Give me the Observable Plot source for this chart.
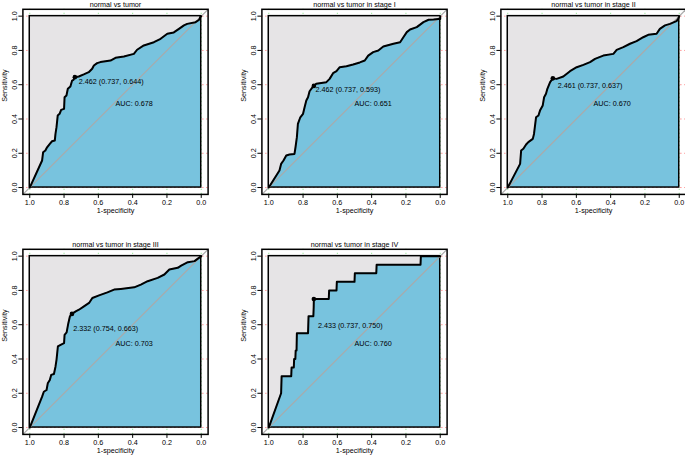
<!DOCTYPE html>
<html><head><meta charset="utf-8">
<script src="https://cdn.jsdelivr.net/npm/d3@7"></script>
<script src="https://cdn.jsdelivr.net/npm/@observablehq/plot@0.6"></script>
<style>
body{margin:0;background:#fff;}
#wrap{position:relative;width:685px;height:455px;overflow:hidden;background:#fff;}
.panel{position:absolute;width:238px;height:239px;}
.panel svg{max-width:none !important;}
</style></head><body><div id="wrap"></div>
<script>
// ---- data (specificity, sensitivity) ----
const titles = ["normal vs tumor", "normal vs tumor in stage I", "normal vs tumor in stage II",
                "normal vs tumor in stage III", "normal vs tumor in stage IV"];
const aucs = [0.678, 0.651, 0.670, 0.703, 0.760];
const thresholds = [2.462, 2.462, 2.461, 2.332, 2.433];
const bestSpec = [0.737, 0.737, 0.737, 0.754, 0.737];
const bestSens = [0.644, 0.593, 0.637, 0.663, 0.750];
const xTicks = [1.0, 0.8, 0.6, 0.4, 0.2, 0.0];
const yTicks = [0.0, 0.2, 0.4, 0.6, 0.8, 1.0];

const rocAll = [[1,0],[0.928,0.158],[0.922,0.206],[0.909,0.216],[0.899,0.235],[0.883,0.255],[0.87,0.27],[0.854,0.274],[0.85,0.313],[0.844,0.352],[0.837,0.42],[0.826,0.43],[0.817,0.453],[0.80,0.459],[0.797,0.527],[0.786,0.537],[0.778,0.576],[0.763,0.589],[0.753,0.624],[0.745,0.628],[0.737,0.644],[0.714,0.648],[0.685,0.66],[0.656,0.673],[0.636,0.693],[0.626,0.712],[0.607,0.726],[0.588,0.732],[0.529,0.741],[0.5,0.757],[0.451,0.765],[0.393,0.78],[0.374,0.804],[0.335,0.829],[0.276,0.848],[0.237,0.868],[0.198,0.897],[0.16,0.905],[0.13,0.926],[0.101,0.946],[0.082,0.955],[0.033,0.965],[0.012,0.979],[0.004,1],[0,1]];
const rocStage1 = [[1,0],[0.9375,0.099],[0.928,0.138],[0.914,0.158],[0.898,0.187],[0.879,0.193],[0.85,0.196],[0.844,0.235],[0.836,0.294],[0.83,0.372],[0.816,0.41],[0.80,0.43],[0.791,0.469],[0.781,0.508],[0.771,0.527],[0.762,0.562],[0.742,0.589],[0.737,0.593],[0.723,0.605],[0.664,0.615],[0.645,0.634],[0.625,0.667],[0.605,0.679],[0.586,0.702],[0.547,0.708],[0.508,0.718],[0.469,0.73],[0.44,0.741],[0.42,0.77],[0.391,0.79],[0.361,0.80],[0.332,0.823],[0.273,0.839],[0.234,0.848],[0.215,0.877],[0.195,0.907],[0.176,0.922],[0.137,0.936],[0.098,0.965],[0.068,0.979],[0.039,0.981],[0.01,0.984],[0,0.984],[0,1]];
const rocStage2 = [[1,0],[0.928,0.138],[0.922,0.216],[0.909,0.226],[0.893,0.251],[0.88,0.265],[0.854,0.284],[0.847,0.313],[0.835,0.41],[0.821,0.42],[0.812,0.449],[0.796,0.479],[0.788,0.527],[0.777,0.547],[0.769,0.576],[0.753,0.615],[0.737,0.637],[0.715,0.634],[0.676,0.648],[0.637,0.679],[0.598,0.702],[0.559,0.716],[0.52,0.732],[0.491,0.751],[0.443,0.77],[0.384,0.78],[0.365,0.803],[0.326,0.819],[0.287,0.839],[0.249,0.854],[0.21,0.877],[0.181,0.891],[0.132,0.897],[0.113,0.926],[0.083,0.946],[0.054,0.955],[0.016,0.971],[0.006,0.984],[0,1]];
const rocStage3 = [[1,0],[0.928,0.18],[0.918,0.209],[0.902,0.219],[0.895,0.258],[0.883,0.277],[0.875,0.307],[0.859,0.3125],[0.85,0.355],[0.844,0.395],[0.836,0.473],[0.82,0.482],[0.80,0.492],[0.797,0.541],[0.785,0.555],[0.775,0.609],[0.766,0.648],[0.754,0.663],[0.732,0.678],[0.713,0.6875],[0.684,0.707],[0.654,0.727],[0.635,0.756],[0.596,0.771],[0.547,0.789],[0.508,0.805],[0.469,0.809],[0.391,0.818],[0.352,0.834],[0.3125,0.854],[0.254,0.873],[0.215,0.893],[0.186,0.922],[0.137,0.932],[0.117,0.945],[0.078,0.965],[0.039,0.971],[0,1]];
const rocStage4 = [[1,0],[0.928,0.2],[0.925,0.3],[0.869,0.3],[0.867,0.35],[0.854,0.35],[0.852,0.4],[0.845,0.4],[0.843,0.45],[0.838,0.45],[0.836,0.55],[0.771,0.55],[0.768,0.65],[0.74,0.65],[0.738,0.7],[0.737,0.75],[0.65,0.75],[0.648,0.8],[0.605,0.8],[0.603,0.85],[0.5,0.85],[0.498,0.9],[0.373,0.9],[0.371,0.95],[0.115,0.95],[0.113,1],[0,1]];
const rocs = [rocAll, rocStage1, rocStage2, rocStage3, rocStage4];

// ---- layout ----
const threshLabelPos = [[0.714,0.62],[0.727,0.57],[0.709,0.595],[0.746,0.576],[0.713,0.596]];
const aucLabelPos = [0.5, 0.49];
const origins = [[0,0],[238.6,0],[477.6,0],[0,239.5],[238.6,239.5]];
const W = 238, H = 239;
const M = {left: 22.4, top: 8.8, right: 30.4, bottom: 45.1};
const xDom = [1.04, -0.04], yDom = [-0.04, 1.04];
const font = "'Liberation Sans', Arial, Helvetica, sans-serif";
const FS = 7.2;
const f3 = d3.format(".3f"), f1 = d3.format(".1f");

const wrap = document.getElementById("wrap");
rocs.forEach((roc, i) => {
  const data = roc.map(([spec, sens]) => ({spec, sens}));
  const chart = Plot.plot({
    width: W, height: H,
    marginLeft: M.left, marginTop: M.top, marginRight: M.right, marginBottom: M.bottom,
    x: {domain: xDom, axis: null},
    y: {domain: yDom, axis: null},
    style: {fontFamily: font, fontSize: FS + "px", background: "transparent", overflow: "visible", color: "black", maxWidth: "none"},
    marks: [
      Plot.ruleY(yTicks, {stroke: "red", strokeDasharray: "1,3", strokeOpacity: 0.6}),
      Plot.ruleX(xTicks, {stroke: "#3c3", strokeDasharray: "1,3", strokeOpacity: 0.6}),
      Plot.rect([0], {x1: 1, x2: 0, y1: 0, y2: 1, fill: "#e6e4e6"}),
      Plot.areaY(data, {x: "spec", y: "sens", fill: "#78c3de"}),
      Plot.rect([0], {x1: 1, x2: 0, y1: 0, y2: 1, fill: "none", stroke: "black", strokeWidth: 1.5}),
      Plot.link([0], {x1: xDom[0], y1: yDom[0], x2: xDom[1], y2: yDom[1], stroke: "#aaaaaa", strokeWidth: 1.2}),
      Plot.line(data, {x: "spec", y: "sens", stroke: "black", strokeWidth: 2, strokeLinejoin: "round"}),
      Plot.dot([0], {x: bestSpec[i], y: bestSens[i], r: 2.3, fill: "black"}),
      Plot.text([`${f3(thresholds[i])} (${f3(bestSpec[i])}, ${f3(bestSens[i])})`],
        {x: threshLabelPos[i][0], y: threshLabelPos[i][1], text: d => d, textAnchor: "start", fontSize: FS}),
      Plot.text([`AUC: ${f3(aucs[i])}`],
        {x: aucLabelPos[0], y: aucLabelPos[1], text: d => d, textAnchor: "start", fontSize: FS}),
      Plot.frame({stroke: "black", strokeWidth: 1.5}),
      Plot.axisX(xTicks, {tickSize: 4, tickPadding: 1, tickFormat: f1, label: null, fontSize: FS}),
      Plot.axisY(yTicks, {tickSize: 4, tickPadding: 2, tickFormat: f1, tickRotate: -90, label: null, fontSize: FS}),
      Plot.text(["1-specificity"], {frameAnchor: "bottom", dy: 18.5, text: d => d, fontSize: FS}),
      Plot.text(["Sensitivity"], {frameAnchor: "left", dx: -18.5, rotate: -90, text: d => d, fontSize: FS}),
      Plot.text([titles[i]], {frameAnchor: "top", dy: -7, text: d => d, fontSize: FS})
    ]
  });
  const div = document.createElement("div");
  div.className = "panel";
  div.style.left = origins[i][0] + "px";
  div.style.top = origins[i][1] + "px";
  div.appendChild(chart);
  wrap.appendChild(div);
});
</script></body></html>
